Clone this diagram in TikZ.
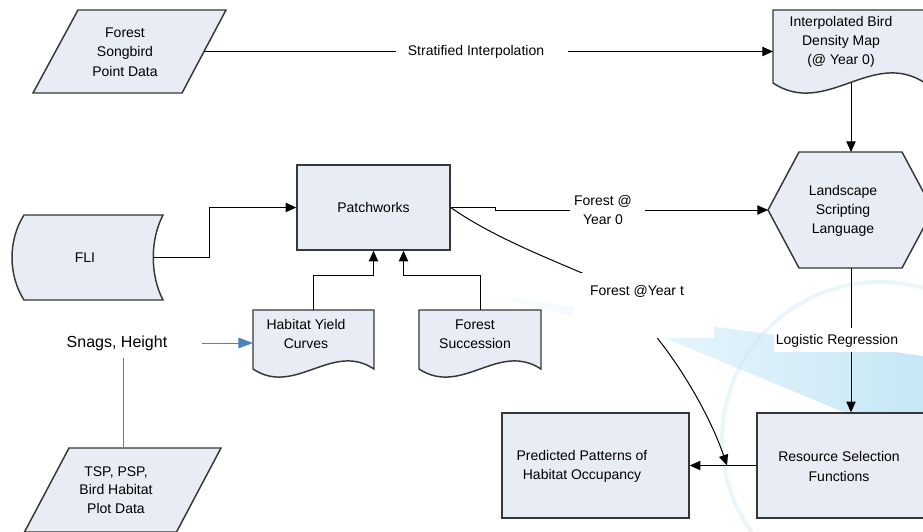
\documentclass[tikz,border=0pt]{standalone}
\usepackage{fontspec}
\setmainfont{Liberation Sans}
\usetikzlibrary{arrows.meta}
\definecolor{boxfill}{RGB}{232,236,244}
\definecolor{boxline}{RGB}{55,55,55}
\definecolor{snagblue}{RGB}{79,129,189}
\definecolor{wmblue}{RGB}{160,215,240}
\definecolor{wmpale}{RGB}{236,245,250}
\def\u{0.75pt}
\begin{document}
\begin{tikzpicture}[x=0.75pt,y=-0.75pt,
  shp/.style={draw=boxline, fill=boxfill, line width=1.1pt, line join=miter},
  txt/.style={font=\fontsize{10.5}{14.5}\selectfont, align=center, inner sep=0pt},
  conn/.style={draw=black, line width=0.75pt, -{Triangle[length=8pt,width=7pt]}},
  whitebox/.style={fill=white, inner sep=0pt},
  bluearrow/.style={draw=snagblue, line width=0.75pt, -{Triangle[length=11pt,width=8pt]}},
  blueline/.style={draw=snagblue, line width=0.75pt}
]
\useasboundingbox (0,0) rectangle (923,531);
\clip (0,0) rectangle (923,531);

% faint watermark
\draw[wmpale, line width=4*\u] (880,440) circle[radius=158*\u];
\shade[left color=white, right color=wmblue, opacity=0.6]
  (470,292) -- (923,356) -- (923,445) -- (660,336) -- cycle;

% ---- shapes ----
% Forest Songbird Point Data (parallelogram)
\draw[shp] (78,10) -- (226,10) -- (182,93) -- (33,93) -- cycle;
\coordinate (fspE) at (204,51.5);

% Interpolated Bird Density Map (document)
\draw[shp] (773,10) -- (925,10) -- (925,83)
  .. controls (872,48) and (826,118) .. (773,83) -- cycle;
\coordinate (ibmW) at (773,51.5);
\coordinate (ibmS) at (851,83);

% Landscape Scripting Language (hexagon)
\draw[shp] (768,210) -- (799,152) -- (902,152) -- (933,210) -- (902,268) -- (799,268) -- cycle;
\coordinate (lslW) at (768,210);
\coordinate (lslN) at (851,152);
\coordinate (lslS) at (851,268);

% Patchworks
\node[shp, txt, minimum width=153*\u, minimum height=85*\u] (pw) at (373.5,207.5) {Patchworks};

% FLI (stored data)
\draw[shp] (24,215) -- (163,215) .. controls (150,240) and (150,275) .. (163,300)
  -- (24,300) .. controls (8,275) and (8,240) .. (24,215) -- cycle;
\coordinate (fliE) at (153,257.5);

% Habitat Yield Curves (document)
\draw[shp] (253,310) -- (374,310) -- (374,369)
  .. controls (332,341) and (295,397) .. (253,369) -- cycle;
\coordinate (hycN) at (313,310);
\coordinate (hycW) at (253,343);

% Forest Succession (document)
\draw[shp] (419,310) -- (541,310) -- (541,369)
  .. controls (498,341) and (462,397) .. (419,369) -- cycle;
\coordinate (fsN) at (480,310);

% TSP, PSP parallelogram
\draw[shp] (69,448) -- (221,448) -- (176.5,532) -- (24.5,532) -- cycle;
\coordinate (tspN) at (123,448);

% Predicted Patterns
\node[shp, minimum width=187*\u, minimum height=105*\u] (pred) at (595.5,465.5) {};
% Resource Selection Functions
\node[shp, minimum width=170*\u, minimum height=105*\u] (rsf) at (842,465.5) {};

% ---- connectors ----
\draw[conn] (fspE) -- (ibmW);
\draw[conn] (ibmS) -- (lslN);
\draw[conn] (fliE) -- ++(56,0) |- (pw.west);
\draw[conn] (hycN) -- ++(0,-35) -| (pw.south);
\draw[conn] (fsN) -- ++(0,-35) -| ([xshift=30*\u]pw.south);
\draw[conn] (pw.east) -- ++(45,0) |- (lslW);
\coordinate (merge) at (727,465.5);
\draw[conn] (pw.east) .. controls (490,235) and (540,255) .. (582,273)
  .. controls (640,297) and (703,395) .. (merge);
\draw[conn] (lslS) -- (lslS |- rsf.north);
\draw[conn] (rsf.west) -- (pred.east);

% Snags, Height
\node[inner sep=0pt, font=\fontsize{12}{14}\selectfont] (snag) at (117,343) {Snags, Height};
\draw[bluearrow] ([xshift=34*\u]snag.east) -- (hycW);
\draw[blueline] ([xshift=6*\u, yshift=-7*\u]snag.south) -- (tspN);

% ---- label boxes ----
\node[whitebox, minimum width=172*\u, minimum height=18*\u] (lblsi) at (482,51.5) {};
\node[txt] at (476,51.5) {Stratified Interpolation};
\node[whitebox, minimum width=75*\u, minimum height=40*\u] (lbl0) at (607.5,210) {};
\node[txt] at (603,210) {Forest @\\Year 0};
\node[whitebox, minimum width=141*\u, minimum height=65*\u] (lblt) at (643.5,305.5) {};
\node[txt] at (637,291) {Forest @Year t};
\node[whitebox, minimum width=151*\u, minimum height=24*\u] (lbllr) at (849.5,340) {};
\node[txt] at (837,341) {Logistic Regression};

% ---- texts ----
\node[txt] (tfsp) at (125,52) {Forest\\Songbird\\Point Data};
\node[txt] (tibm) at (841,42) {Interpolated Bird\\Density Map\\(@ Year 0)};
\node[txt] (tlsl) at (843,211) {Landscape\\Scripting\\Language};
\node[txt] (tfli) at (85,258) {FLI};
\node[txt] (thyc) at (306,334) {Habitat Yield\\Curves};
\node[txt] (tfs) at (475,334) {Forest\\Succession};
\node[txt, font=\fontsize{10.5}{13.9}\selectfont] (ttsp) at (116,490) {TSP, PSP,\\Bird Habitat\\Plot Data};
\node[txt] (tpred) at (582,466.5) {Predicted Patterns of\\Habitat Occupancy};
\node[txt] (trsf) at (839,466.5) {Resource Selection\\Functions};
\end{tikzpicture}
\end{document}
